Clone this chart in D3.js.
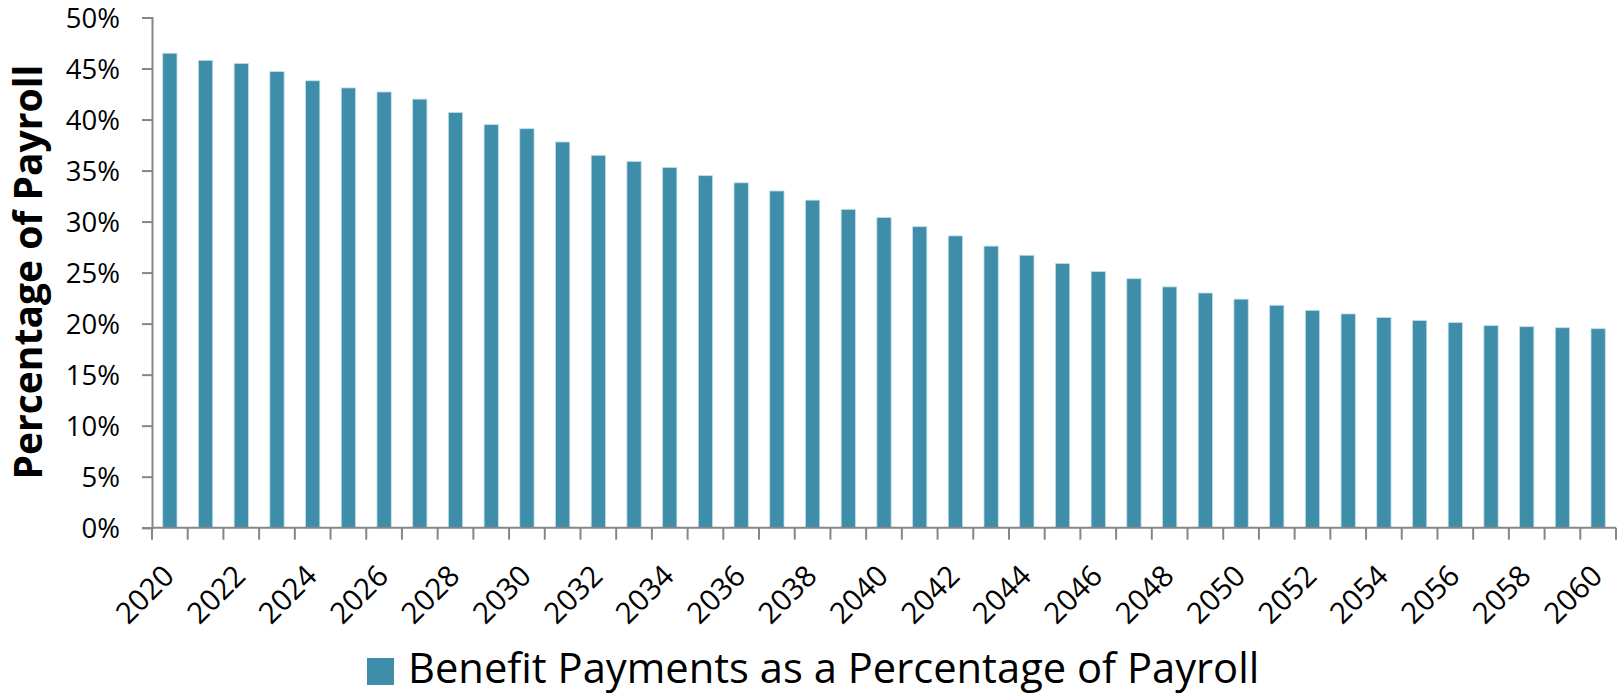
<!DOCTYPE html>
<html>
<head>
<meta charset="utf-8">
<script src="https://cdn.jsdelivr.net/npm/d3@7"></script>
<style>
  html, body { margin: 0; padding: 0; background: #fff; }
  svg { display: block; }
  text { font-family: "Open Sans", Lato, sans-serif; fill: #000; }
</style>
</head>
<body>
<svg id="chart" width="1623" height="696"></svg>
<script>
const years = [2020,2021,2022,2023,2024,2025,2026,2027,2028,2029,2030,2031,2032,2033,2034,2035,2036,2037,2038,2039,2040,2041,2042,2043,2044,2045,2046,2047,2048,2049,2050,2051,2052,2053,2054,2055,2056,2057,2058,2059,2060];
const benefitPct = [46.5,45.8,45.5,44.7,43.8,43.1,42.7,42.0,40.7,39.5,39.1,37.8,36.5,35.9,35.3,34.5,33.8,33.0,32.1,31.2,30.4,29.5,28.6,27.6,26.7,25.9,25.1,24.4,23.6,23.0,22.4,21.8,21.3,20.95,20.6,20.3,20.1,19.8,19.7,19.6,19.5];
const yTicks = [0,5,10,15,20,25,30,35,40,45,50];
const xLabelYears = years.filter((d,i) => i % 2 === 0);
const seriesName = "Benefit Payments as a Percentage of Payroll";
const yTitle = "Percentage of Payroll";

(function () {
const svg = d3.select("#chart");
const mLeft = 152, mRight = 1616, mTop = 17.5, mBottom = 527.7;
const barColor = "#3e8eaa";
const axisColor = "#868686";
const font = "'Open Sans', Lato, sans-serif";

const x = d3.scaleBand().domain(years).range([mLeft, mRight]).paddingInner(0.6).paddingOuter(0.3);
const y = d3.scaleLinear().domain([0, 50]).range([mBottom, mTop]);

// bars
svg.append("g").selectAll("rect").data(years).join("rect")
  .attr("x", d => x(d))
  .attr("width", x.bandwidth())
  .attr("y", (d,i) => y(benefitPct[i]))
  .attr("height", (d,i) => mBottom - y(benefitPct[i]))
  .attr("fill", barColor)
  .attr("stroke", "#c3dfe8")
  .attr("stroke-width", 0.8);

// y axis
const yAxis = d3.axisLeft(y).tickValues(yTicks).tickFormat(d => d + "%").tickSize(10).tickPadding(22);
const gy = svg.append("g").attr("transform", `translate(${mLeft},0)`).call(yAxis);
gy.select(".domain").attr("stroke", axisColor).attr("stroke-width", 2);
gy.selectAll(".tick line").attr("stroke", axisColor).attr("stroke-width", 2);
gy.selectAll(".tick text").attr("font-family", font).attr("font-size", 27.5).attr("fill", "#000").attr("dy", "0.35em");

// x axis line + boundary ticks
const step = x.step();
const boundaries = d3.range(years.length + 1).map(k => mLeft + k * step);
const gx = svg.append("g");
gx.append("line").attr("x1", mLeft).attr("x2", mRight).attr("y1", mBottom).attr("y2", mBottom)
  .attr("stroke", axisColor).attr("stroke-width", 2);
gx.selectAll("line.tk").data(boundaries).join("line").attr("class", "tk")
  .attr("x1", d => d).attr("x2", d => d).attr("y1", mBottom).attr("y2", mBottom + 12)
  .attr("stroke", axisColor).attr("stroke-width", 2);
gx.selectAll("text").data(xLabelYears).join("text")
  .attr("transform", d => `translate(${x(d) + x.bandwidth()/2 + 6},${mBottom + 50}) rotate(-45)`)
  .attr("text-anchor", "end")
  .attr("font-size", 29.5)
  .text(d => d);

// y title
svg.append("text")
  .attr("transform", `translate(42,272) rotate(-90)`)
  .attr("text-anchor", "middle")
  .attr("font-weight", "bold")
  .attr("font-size", 39)
  .text(yTitle);

// legend
svg.append("rect").attr("x", 367).attr("y", 658).attr("width", 27).attr("height", 27).attr("fill", barColor);
svg.append("text").attr("x", 408).attr("y", 683).attr("font-size", 41.7).text(seriesName);
})();
</script>
</body>
</html>
